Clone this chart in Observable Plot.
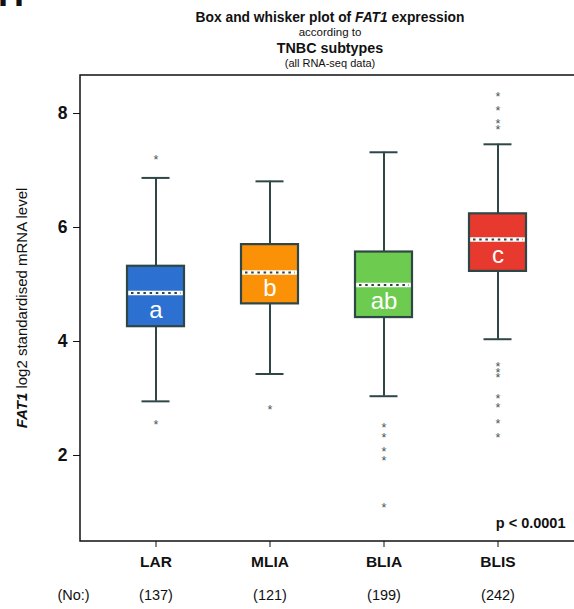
<!DOCTYPE html>
<html>
<head>
<meta charset="utf-8">
<script src="https://cdn.jsdelivr.net/npm/d3@7"></script>
<script src="https://cdn.jsdelivr.net/npm/@observablehq/plot@0.6"></script>
<style>
  html, body { margin: 0; padding: 0; background: #fff; }
  #wrap { position: relative; width: 574px; height: 609px; overflow: hidden; font-family: "Liberation Sans", Arial, sans-serif; color: #111; }
  #head { position: relative; height: 68px; }
  .t { position: absolute; left: 0; width: 660px; text-align: center; white-space: nowrap; }
  #panel { position: absolute; left: -2px; top: -24px; font: bold 36px/36px "Liberation Sans", Arial, sans-serif; color: #111; }
  svg { display: block; }
</style>
</head>
<body>
<div id="wrap">
  <div id="head">
    <div id="panel">H</div>
    <div class="t" style="top:9px; font:bold 13.8px/17px 'Liberation Sans',Arial,sans-serif;">Box and whisker plot of <i>FAT1</i> expression</div>
    <div class="t" style="top:25px; font:11.5px/14px 'Liberation Sans',Arial,sans-serif;">according to</div>
    <div class="t" style="top:39px; font:bold 14.3px/18px 'Liberation Sans',Arial,sans-serif;">TNBC subtypes</div>
    <div class="t" style="top:56px; font:11px/14px 'Liberation Sans',Arial,sans-serif;">(all RNA-seq data)</div>
  </div>
  <div id="chart"></div>
</div>
<script>
// ---- data ----
const categories  = ["LAR", "MLIA", "BLIA", "BLIS"];
const counts      = [137, 121, 199, 242];
const letters     = ["a", "b", "ab", "c"];
const whiskerLow  = [2.95, 3.43, 3.04, 4.04];
const q1          = [4.26, 4.66, 4.42, 5.23];
const median      = [4.85, 5.21, 4.99, 5.79];
const q3          = [5.32, 5.70, 5.57, 6.24];
const whiskerHigh = [6.87, 6.81, 7.32, 7.46];
const boxColors   = ["#2c70d2", "#fb9106", "#6dcb4f", "#e8392f"];

const outlierGroup = ["LAR", "LAR", "MLIA",
  "BLIA", "BLIA", "BLIA", "BLIA", "BLIA",
  "BLIS", "BLIS", "BLIS", "BLIS", "BLIS", "BLIS", "BLIS", "BLIS", "BLIS", "BLIS", "BLIS"];
const outlierValue = [7.23, 2.58, 2.85,
  2.53, 2.36, 2.12, 1.96, 1.14,
  8.35, 8.09, 7.86, 7.76, 3.61, 3.50, 3.42, 3.04, 2.88, 2.61, 2.36];

const yTicks = [2, 4, 6, 8];
const pText = "p < 0.0001";
const noLabel = "(No:)";

// ---- tables built from the arrays ----
const boxes = categories.map((c, i) => ({
  cat: c, n: counts[i], letter: letters[i],
  lo: whiskerLow[i], q1: q1[i], med: median[i], q3: q3[i], hi: whiskerHigh[i]
}));
const outliers = outlierGroup.map((g, i) => ({cat: g, v: outlierValue[i]}));

const ink = "#2f4646";
const font = "'Liberation Sans', Arial, sans-serif";

const frameLines = (index, scales, values, dim) => {
  const {width, height, marginLeft, marginRight, marginTop, marginBottom} = dim;
  return d3.create("svg:path")
    .attr("d", `M${width - marginRight},${marginTop}H${marginLeft}V${height - marginBottom}H${width - marginRight}`)
    .attr("fill", "none").attr("stroke", "#111").attr("stroke-width", 1.5)
    .node();
};

const yLabel = (index, scales, values, dim) => {
  const cy = (dim.marginTop + dim.height - dim.marginBottom) / 2;
  const t = d3.create("svg:text")
    .attr("transform", `translate(22,${cy}) rotate(-90)`)
    .attr("text-anchor", "middle").attr("dy", "0.35em")
    .attr("font-size", 15).attr("fill", "#111");
  t.append("tspan").attr("font-weight", "bold").attr("font-style", "italic").text("FAT1");
  t.append("tspan").text(" log2 standardised mRNA level");
  return t.node();
};

const chart = Plot.plot({
  width: 574,
  height: 541,
  marginLeft: 80,
  marginRight: 0,
  marginTop: 7,
  marginBottom: 68,
  style: {fontFamily: font, background: "white", color: "#111", overflow: "visible"},
  x: {type: "band", domain: categories, paddingInner: 0.496, paddingOuter: 0.4},
  y: {domain: [0.491, 8.667]},
  color: {domain: categories, range: boxColors},
  marks: [
    frameLines,
    yLabel,
    Plot.axisY({ticks: yTicks, tickSize: 7, tickPadding: 6, fontSize: 17.5, fontWeight: "bold", label: null, stroke: "#111"}),
    Plot.axisX({tickSize: 6, tickPadding: 8, fontSize: 15.5, fontWeight: "bold", label: null, stroke: "#111"}),
    // whiskers
    Plot.ruleX(boxes, {x: "cat", y1: "lo", y2: "q1", stroke: ink, strokeWidth: 2}),
    Plot.ruleX(boxes, {x: "cat", y1: "q3", y2: "hi", stroke: ink, strokeWidth: 2}),
    Plot.tickY(boxes, {x: "cat", y: "lo", stroke: ink, strokeWidth: 2, insetLeft: 14.5, insetRight: 14.5}),
    Plot.tickY(boxes, {x: "cat", y: "hi", stroke: ink, strokeWidth: 2, insetLeft: 14.5, insetRight: 14.5}),
    // boxes
    Plot.barY(boxes, {x: "cat", y1: "q1", y2: "q3", fill: "cat", stroke: ink, strokeWidth: 2.2}),
    // median: white band with dark dots
    Plot.tickY(boxes, {x: "cat", y: "med", stroke: "white", strokeWidth: 4.5, insetLeft: 1.2, insetRight: 1.2}),
    Plot.tickY(boxes, {x: "cat", y: "med", stroke: ink, strokeWidth: 2, strokeDasharray: "2.5,3.7", insetLeft: 4, insetRight: 3}),
    // group letters
    Plot.text(boxes, {x: "cat", y: d => (d.med + d.q1) / 2, text: "letter", fill: "white", fontSize: 24}),
    // outliers
    Plot.text(outliers, {x: "cat", y: "v", text: () => "*", fill: "#465454", fontSize: 12.5, dy: 3}),
    // counts row
    Plot.text(boxes, {x: "cat", text: d => `(${d.n})`, frameAnchor: "bottom", dy: 58, fontSize: 14.5, fill: "#111"}),
    Plot.text([noLabel], {text: d => d, frameAnchor: "bottom-left", textAnchor: "middle", dx: -7, dy: 58, fontSize: 14.5, fill: "#111"}),
    // p-value
    Plot.text([pText], {text: d => d, frameAnchor: "bottom-right", textAnchor: "end", dx: -9, dy: -14, fontSize: 14.5, fontWeight: "bold", fill: "#111"})
  ]
});
document.getElementById("chart").appendChild(chart);
</script>
</body>
</html>
